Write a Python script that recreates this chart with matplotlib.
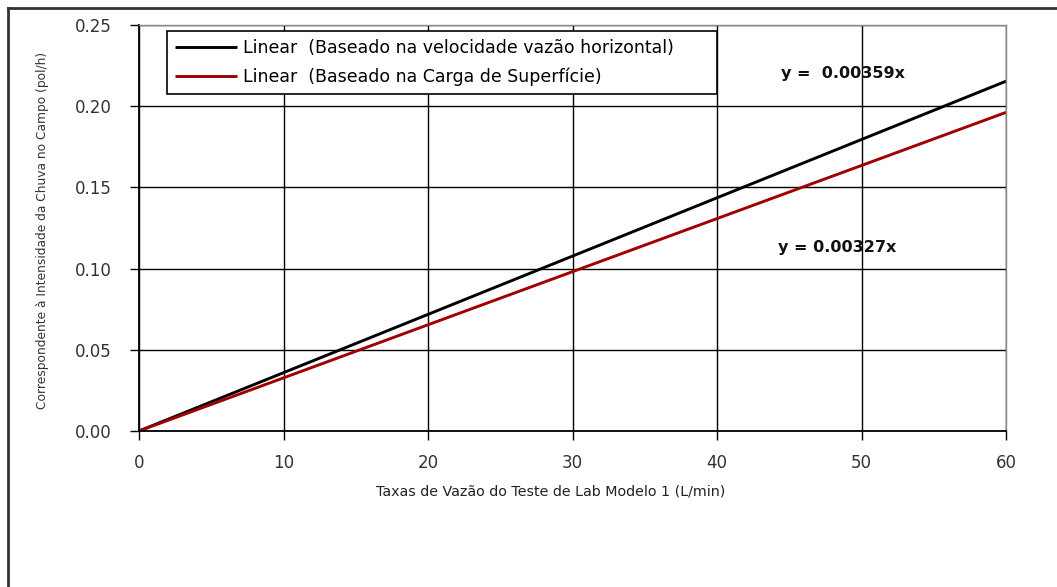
import numpy as np
import matplotlib
matplotlib.use("Agg")
import matplotlib.pyplot as plt
from matplotlib.lines import Line2D

plt.rcParams['font.family'] = ['DejaVu Sans']

# ajustes lineares (y = a*x)
x_range = [0, 60]
slopes = [0.00359, 0.00327]
labels = ['Linear  (Baseado na velocidade vazão horizontal)',
          'Linear  (Baseado na Carga de Superfície)']
colors = ['#000000', '#a00000']
eq_text = ['y =  0.00359x', 'y = 0.00327x']
eq_pos = [(44.4, 0.2204), (44.2, 0.1127)]

xticks = [0, 10, 20, 30, 40, 50, 60]
yticks = [0.00, 0.05, 0.10, 0.15, 0.20, 0.25]

fig = plt.figure(figsize=(10.57, 5.87), dpi=100)
ax = fig.add_axes([0.1315, 0.2658, 0.8203, 0.6916])

x = np.array(x_range)
for a, lab, c in zip(slopes, labels, colors):
    ax.plot(x, a * x, color=c, lw=2.1, label=lab, solid_capstyle='butt')

for (ex, ey), t in zip(eq_pos, eq_text):
    ax.text(ex, ey, t, fontsize=11.5, fontweight='bold', va='center', ha='left',
            color='#111111')

ax.set_xlim(0, 60)
ax.set_ylim(0, 0.25)
ax.set_xticks(xticks)
ax.set_yticks(yticks)
ax.set_xticklabels([str(v) for v in xticks])
ax.set_yticklabels(['%.2f' % v for v in yticks])
ax.grid(True, color='black', lw=1)
ax.set_axisbelow(True)
ax.tick_params(direction='out', length=6.5, width=1, labelsize=12, labelcolor='#333333')
ax.tick_params(axis='y', pad=13)
ax.tick_params(axis='x', pad=10)

for s in ['left', 'bottom']:
    ax.spines[s].set_color('black')
    ax.spines[s].set_linewidth(1.3)
for s in ['top', 'right']:
    ax.spines[s].set_color('#888888')
    ax.spines[s].set_linewidth(1)

ax.set_xlabel('Taxas de Vazão do Teste de Lab Modelo 1 (L/min)', fontsize=10.3,
              color='#222222', va='center')
ax.xaxis.set_label_coords(0.475, -0.150)
ax.set_ylabel('Correspondente à Intensidade da Chuva no Campo (pol/h)', fontsize=8.8,
              color='#333333', va='center')
ax.yaxis.set_label_coords(-0.111, 0.495)

leg = ax.legend(loc='upper left', bbox_to_anchor=(0.032, 0.985, 0.635, 0.0),
                mode='expand', borderaxespad=0,
                fontsize=12.5, handlelength=3.6, handletextpad=0.35, labelspacing=0.62,
                fancybox=False, framealpha=1, edgecolor='black', borderpad=0.45)
leg.get_frame().set_linewidth(1.2)

# moldura externa (esquerda e topo)
fig.add_artist(Line2D([8 / 1057, 8 / 1057], [0, 1 - 8 / 587], color='#333333', lw=2,
                      transform=fig.transFigure))
fig.add_artist(Line2D([8 / 1057, 1], [1 - 8 / 587, 1 - 8 / 587], color='#333333', lw=2,
                      transform=fig.transFigure))

fig.savefig('out.png', dpi=100)
